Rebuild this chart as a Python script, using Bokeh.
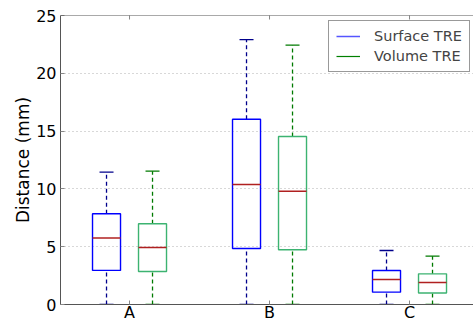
from bokeh.plotting import figure
from bokeh.models import Range1d, FixedTicker, Legend, LegendItem, ColumnDataSource, Span
from bokeh.embed import file_html
from bokeh.resources import INLINE
import math

categories = ["A", "B", "C"]
cat_pos = [1, 2, 3]

surface_low = [0.0, 0.0, 0.0]
surface_q1 = [2.95, 4.84, 1.07]
surface_med = [5.75, 10.38, 2.16]
surface_q3 = [7.85, 16.03, 2.94]
surface_high = [11.45, 22.92, 4.67]

volume_low = [0.0, 0.0, 0.0]
volume_q1 = [2.85, 4.73, 1.0]
volume_med = [4.93, 9.8, 1.9]
volume_q3 = [6.98, 14.53, 2.65]
volume_high = [11.53, 22.43, 4.18]

y_ticks = [0, 5, 10, 15, 20, 25]
Y_MAX = 25

FONT = "DejaVu Sans"

p = figure(width=473, height=324, output_backend="svg", toolbar_location=None,
           x_range=Range1d(0.507, 3.457), y_range=Range1d(0, Y_MAX),
           min_border_left=60, min_border_right=0, min_border_top=15, min_border_bottom=20)
p.outline_line_color = None
p.background_fill_color = "white"
p.border_fill_color = "white"

p.xaxis.ticker = FixedTicker(ticks=cat_pos)
p.xaxis.major_label_overrides = {c: l for c, l in zip(cat_pos, categories)}
p.yaxis.ticker = FixedTicker(ticks=y_ticks)
for ax in (p.xaxis[0], p.yaxis[0]):
    ax.major_tick_in = 4
    ax.major_tick_out = 0
    ax.minor_tick_line_color = None
    ax.axis_line_color = "#555555"
    ax.major_tick_line_color = "#888888"
    ax.major_label_text_font = FONT
    ax.major_label_text_font_size = "16px"
    ax.major_label_text_color = "black"
p.xaxis.major_label_standoff = -2
p.yaxis.major_label_standoff = 4
p.yaxis.axis_label = "Distance (mm)"
p.yaxis.axis_label_text_font = FONT
p.yaxis.axis_label_text_font_size = "17px"
p.yaxis.axis_label_text_font_style = "normal"
p.yaxis.axis_label_text_color = "black"
p.yaxis.axis_label_standoff = 0

# top spine and top ticks
p.add_layout(Span(location=Y_MAX, dimension="width", line_color="#555555", line_width=1))
p.scatter(x=cat_pos, y=[Y_MAX] * len(cat_pos), marker="dash", angle=math.pi / 2, size=8,
          line_color="#888888", line_width=1)

p.xgrid.grid_line_color = None
p.ygrid.grid_line_color = "#b0b0b0"
p.ygrid.grid_line_dash = "1 3"
p.ygrid.grid_line_width = 1

offset = 23 / 140
half_box = 0.1
half_cap = 0.05

def draw(lo, q1, med, q3, hi, sign, box_color, whisk_color):
    xs = [c + sign * offset for c in cat_pos]
    src = ColumnDataSource(dict(
        x=xs, x0=[x - half_box for x in xs], x1=[x + half_box for x in xs],
        c0=[x - half_cap for x in xs], c1=[x + half_cap for x in xs],
        lo=lo, q1=q1, med=med, q3=q3, hi=hi))
    p.segment(x0="x", y0="q3", x1="x", y1="hi", source=src, line_color=whisk_color,
              line_dash="4 3", line_width=1.3)
    p.segment(x0="x", y0="lo", x1="x", y1="q1", source=src, line_color=whisk_color,
              line_dash="4 3", line_width=1.3)
    p.segment(x0="c0", y0="hi", x1="c1", y1="hi", source=src, line_color=whisk_color, line_width=1.3)
    p.segment(x0="c0", y0="lo", x1="c1", y1="lo", source=src, line_color=whisk_color, line_width=1.3)
    p.quad(left="x0", right="x1", bottom="q1", top="q3", source=src, fill_color=None,
           line_color=box_color, line_width=1.4)
    p.segment(x0="x0", y0="med", x1="x1", y1="med", source=src, line_color="#b02020", line_width=1.4)

draw(surface_low, surface_q1, surface_med, surface_q3, surface_high, -1, "#0000ff", "#00008b")
draw(volume_low, volume_q1, volume_med, volume_q3, volume_high, 1, "#3cb371", "#007a00")

nan = float("nan")
r1 = p.line(x=[nan], y=[nan], line_color="#5555ff", line_width=1.5)
r2 = p.line(x=[nan], y=[nan], line_color="#008000", line_width=1.2)
legend = Legend(items=[LegendItem(label="Surface TRE", renderers=[r1]),
                       LegendItem(label="Volume TRE", renderers=[r2])],
                location=(268, 232), margin=0, padding=7, spacing=4,
                glyph_width=24, glyph_height=16, label_height=16, label_standoff=14,
                label_text_font=FONT, label_text_font_size="14.5px",
                border_line_color="#333333", border_line_width=1,
                background_fill_color="white", background_fill_alpha=1)
p.add_layout(legend)

open("out.html", "w").write(file_html(p, INLINE))
